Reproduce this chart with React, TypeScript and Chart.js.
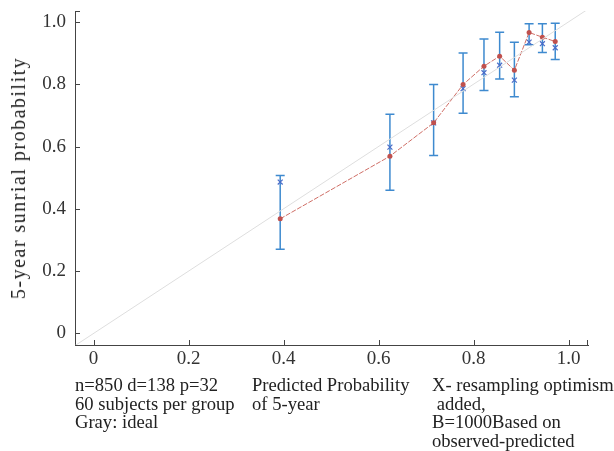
import React, { useEffect, useRef } from 'react';
import { Chart, registerables } from 'chart.js';

Chart.register(...registerables);

// Mean predicted probability per group (x)
const predicted = [0.393, 0.624, 0.716, 0.778, 0.822, 0.855, 0.886, 0.917, 0.945, 0.972];
// Apparent observed survival (red dots)
const observed = [0.368, 0.569, 0.676, 0.799, 0.858, 0.890, 0.845, 0.966, 0.951, 0.937];
// Bias-corrected estimates (blue X)
const corrected = [0.486, 0.598, 0.676, 0.786, 0.837, 0.861, 0.813, 0.935, 0.930, 0.917];
// Error bar limits
const upper = [0.507, 0.704, 0.799, 0.900, 0.945, 0.967, 0.935, 0.994, 0.994, 0.996];
const lower = [0.270, 0.460, 0.571, 0.707, 0.780, 0.817, 0.760, 0.927, 0.902, 0.879];
// Ideal diagonal end points
const idealLine = [-0.04, 1.04];
// Tick values
const tickValues = [0, 0.2, 0.4, 0.6, 0.8, 1.0];

const yTitle = '5-year sunrial probability';
const noteLeft = ['n=850 d=138 p=32', '60 subjects per group', 'Gray: ideal'];
const noteMid = ['Predicted Probability', 'of 5-year'];
const noteRight = ['X- resampling optimism', ' added,', 'B=1000Based on', 'observed-predicted'];

const FONT = "'Liberation Serif', 'Times New Roman', serif";

const errorBarPlugin = {
  id: 'errorBars',
  beforeDatasetsDraw(chart: any) {
    const { ctx, scales } = chart;
    const xs = scales.x;
    const ys = scales.y;
    ctx.save();
    ctx.strokeStyle = 'rgba(52,132,204,0.95)';
    ctx.lineWidth = 1.5;
    predicted.forEach((p, i) => {
      const px = xs.getPixelForValue(p);
      const pt = ys.getPixelForValue(upper[i]);
      const pb = ys.getPixelForValue(lower[i]);
      ctx.beginPath();
      ctx.moveTo(px, pt);
      ctx.lineTo(px, pb);
      ctx.moveTo(px - 4.5, pt);
      ctx.lineTo(px + 4.5, pt);
      ctx.moveTo(px - 4.5, pb);
      ctx.lineTo(px + 4.5, pb);
      ctx.stroke();
    });
    ctx.restore();
  },
};

const innerTicksPlugin = {
  id: 'innerTicks',
  afterDraw(chart: any) {
    const { ctx, scales, chartArea } = chart;
    const { left, right, top, bottom } = chartArea;
    ctx.save();
    ctx.strokeStyle = '#444';
    ctx.lineWidth = 1;
    ctx.beginPath();
    tickValues.forEach((v) => {
      const px = Math.round(scales.x.getPixelForValue(v)) + 0.5;
      ctx.moveTo(px, bottom);
      ctx.lineTo(px, bottom - 5);
      const py = Math.round(scales.y.getPixelForValue(v)) + 0.5;
      ctx.moveTo(left, py);
      ctx.lineTo(left + 5, py);
    });
    // frame end marks
    ctx.moveTo(Math.round(right) - 0.5, bottom);
    ctx.lineTo(Math.round(right) - 0.5, bottom - 5);
    ctx.moveTo(left, Math.round(top) + 0.5);
    ctx.lineTo(left + 5, Math.round(top) + 0.5);
    ctx.stroke();
    ctx.restore();
  },
};

export default function App() {
  const canvasRef = useRef<HTMLCanvasElement | null>(null);

  useEffect(() => {
    if (!canvasRef.current) return;
    const tickCb = (v: any) => (Number(v) === 0 ? '0' : Number(v).toFixed(1));
    const chart = new Chart(canvasRef.current, {
      type: 'scatter',
      data: {
        datasets: [
          {
            label: 'ideal',
            data: idealLine.map((v) => ({ x: v, y: v })),
            showLine: true,
            borderColor: '#dedede',
            borderWidth: 1,
            pointRadius: 0,
          },
          {
            label: 'apparent',
            data: predicted.map((p, i) => ({ x: p, y: observed[i] })),
            showLine: true,
            borderColor: '#cf6e66',
            borderWidth: 1,
            borderDash: [5, 1.5],
            pointRadius: 2.5,
            pointBackgroundColor: '#c0504d',
            pointBorderColor: '#c0504d',
            pointBorderWidth: 0,
          },
          {
            label: 'corrected',
            data: predicted.map((p, i) => ({ x: p, y: corrected[i] })),
            showLine: false,
            pointStyle: 'crossRot',
            pointRadius: 3.5,
            pointBorderColor: '#4a6cc8',
            pointBorderWidth: 1.2,
          },
        ],
      },
      options: {
        animation: false,
        responsive: false,
        maintainAspectRatio: false,
        layout: { padding: { top: 11, right: 26, left: 0, bottom: 0 } },
        plugins: { legend: { display: false }, tooltip: { enabled: false } },
        scales: {
          x: {
            type: 'linear',
            min: -0.039,
            max: 1.041,
            afterBuildTicks: (s: any) => {
              s.ticks = tickValues.map((v) => ({ value: v }));
            },
            afterFit: (s: any) => {
              s.height = 106;
              s.paddingLeft = 0;
              s.paddingRight = 0;
            },
            grid: { display: false, drawTicks: false },
            border: { display: true, color: '#444', width: 1 },
            ticks: {
              callback: tickCb,
              padding: 3,
              maxRotation: 0,
              color: '#333',
              font: { family: FONT, size: 19 },
            },
          },
          y: {
            type: 'linear',
            min: -0.037,
            max: 1.035,
            afterBuildTicks: (s: any) => {
              s.ticks = tickValues.map((v) => ({ value: v }));
            },
            afterFit: (s: any) => {
              s.width = 75;
              s.paddingTop = 0;
              s.paddingBottom = 0;
            },
            grid: { display: false, drawTicks: false },
            border: { display: true, color: '#444', width: 1 },
            ticks: {
              callback: tickCb,
              padding: 9,
              color: '#333',
              font: { family: FONT, size: 19, lineHeight: 1 },
            },
          },
        },
      },
      plugins: [errorBarPlugin, innerTicksPlugin],
    });
    return () => chart.destroy();
  }, []);

  const noteStyle = (left: number): React.CSSProperties => ({
    position: 'absolute',
    left,
    top: 376,
    fontFamily: FONT,
    fontSize: 18.6,
    lineHeight: '18.7px',
    color: '#222',
    whiteSpace: 'pre',
  });

  return (
    <div style={{ position: 'fixed', left: 0, top: 0, width: 614, height: 451, background: '#fff', overflow: 'hidden' }}>
      <canvas ref={canvasRef} width={614} height={451} style={{ position: 'absolute', left: 0, top: 0, width: 614, height: 451 }} />
      <div
        style={{
          position: 'absolute',
          left: 18,
          top: 178,
          transform: 'translate(-50%, -50%) rotate(-90deg)',
          fontFamily: FONT,
          fontSize: 20,
          lineHeight: '22px',
          letterSpacing: '1.5px',
          color: '#222',
          whiteSpace: 'nowrap',
        }}
      >
        {yTitle}
      </div>
      <div style={noteStyle(75)}>{noteLeft.map((t, i) => <div key={i}>{t}</div>)}</div>
      <div style={noteStyle(252)}>{noteMid.map((t, i) => <div key={i}>{t}</div>)}</div>
      <div style={noteStyle(432)}>{noteRight.map((t, i) => <div key={i}>{t}</div>)}</div>
    </div>
  );
}
